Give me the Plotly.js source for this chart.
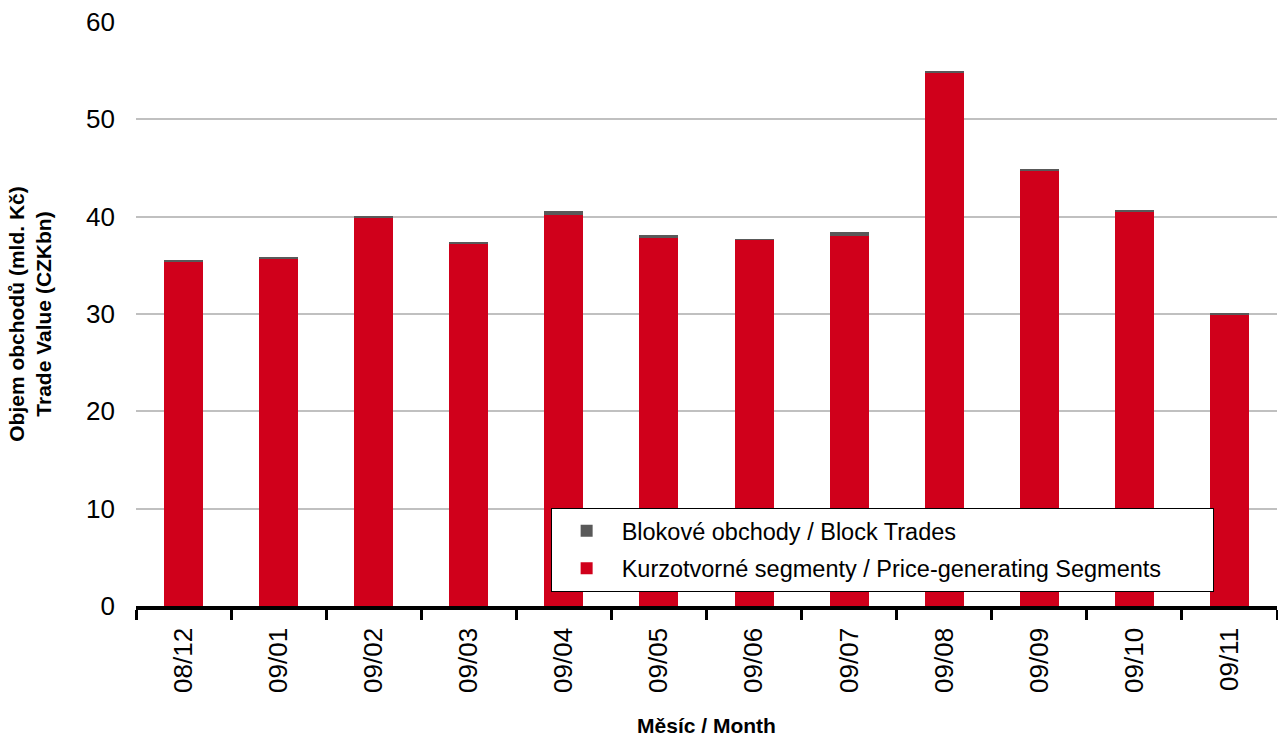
<!DOCTYPE html>
<html>
<head>
<meta charset="utf-8">
<script src="https://cdn.plot.ly/plotly-3.0.1.min.js"></script>
<style>html,body{margin:0;padding:0;background:#fff;}#chart{width:1278px;height:737px;}</style>
</head>
<body>
<div id="chart"></div>
<script>
var months = ["08/12","09/01","09/02","09/03","09/04","09/05","09/06","09/07","09/08","09/09","09/10","09/11"];
var priceGenerating = [35.35, 35.65, 39.9, 37.22, 40.17, 37.81, 37.6, 38.02, 54.76, 44.69, 40.48, 29.9];
var blockTrades = [0.2, 0.2, 0.2, 0.18, 0.4, 0.3, 0.1, 0.4, 0.2, 0.2, 0.2, 0.2];
var yTicks = [0, 10, 20, 30, 40, 50, 60];
var seriesNames = ["Kurzotvorné segmenty / Price-generating Segments", "Blokové obchody / Block Trades"];

var pad = "\u00a0\u00a0\u00a0\u00a0\u00a0\u00a0\u00a0";
var traces = [
  {type: "bar", x: months, y: priceGenerating, name: seriesNames[0] + pad, legendgroup: "a", legendrank: 2,
   marker: {color: "#d0001b"}, hoverinfo: "x+y"},
  {type: "bar", x: months, y: blockTrades, name: seriesNames[1], legendgroup: "b", legendrank: 1,
   marker: {color: "#595959"}, hoverinfo: "x+y"}
];

var layout = {
  width: 1278, height: 737,
  margin: {l: 136, r: 1, t: 22, b: 131, pad: 0},
  paper_bgcolor: "#ffffff", plot_bgcolor: "#ffffff",
  barmode: "stack", bargap: 0.59,
  font: {family: "Liberation Sans, Arial, sans-serif", color: "#000"},
  xaxis: {
    type: "category", range: [-0.5, 11.5],
    tickson: "boundaries", ticks: "outside", ticklen: 10, tickwidth: 3, tickcolor: "#000",
    showline: true, linecolor: "#000", linewidth: 3.5, ticklabelstandoff: 8,
    tickangle: -90, tickfont: {size: 26, family: "Liberation Sans, Arial, sans-serif"},
    showgrid: false,
    title: {text: "<b>Měsíc / Month</b>", font: {size: 21}, standoff: 30}
  },
  yaxis: {
    range: [0, 60], tickvals: yTicks, ticktext: yTicks.map(String),
    ticks: "", ticklabelstandoff: 20,
    showgrid: true, gridcolor: "#c0c0c0", gridwidth: 2,
    zeroline: false, showline: false,
    tickfont: {size: 26, family: "Liberation Sans, Arial, sans-serif"},
    title: {text: "<b>Objem obchodů (mld. Kč)<br>Trade Value (CZKbn)</b>", font: {size: 21}, standoff: 28}
  },
  legend: {
    x: (551 - 136) / 1142, y: (606 - 508) / 584, xanchor: "left", yanchor: "top",
    bgcolor: "#ffffff", bordercolor: "#000", borderwidth: 1,
    font: {size: 23.5, family: "Liberation Sans, Arial, sans-serif"},
    traceorder: "grouped", itemwidth: 60, tracegroupgap: 4
  },
  showlegend: true
};

Plotly.newPlot("chart", traces, layout, {displayModeBar: false, staticPlot: true});
</script>
</body>
</html>
